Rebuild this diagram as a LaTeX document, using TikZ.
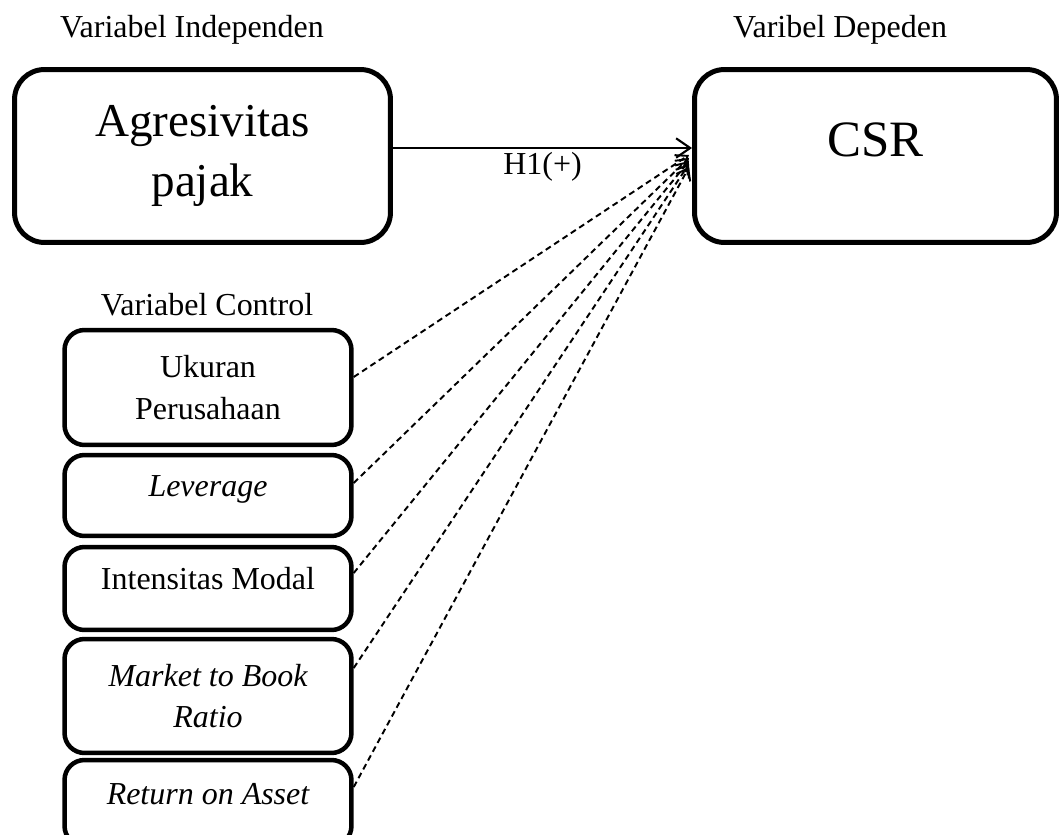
\documentclass[tikz,border=0pt]{standalone}
\usepackage{fontspec}
\setmainfont{Liberation Serif}
\usetikzlibrary{arrows.meta}

\begin{document}
\begin{tikzpicture}[x=0.02cm, y=-0.02cm,
  small/.style={font=\fontsize{18.2}{23.5}\selectfont},
  big/.style={font=\fontsize{26.8}{34}\selectfont},
  bigbox/.style={draw, line width=0.1cm, rounded corners=0.6cm, big, align=center, minimum height=3.46cm},
  ctrl/.style={draw, line width=0.09cm, rounded corners=0.4cm, small, align=center, minimum width=5.74cm},
  oneline/.style={text height=0.6em, text depth=0.45em},
  link/.style={line width=1.1pt, dash pattern=on 3.4pt off 2.3pt, -{Straight Barb[length=6pt,width=9pt]}}]
\useasboundingbox (0,0) rectangle (1059,835);
\node (tind) at (192,30) [small] {Variabel Independen};
\node (tdep) at (840,30) [small] {Varibel Depeden};
\node (tctl) at (207,305) [small] {Variabel Control};
\node (agr) at (202.5,156) [bigbox, minimum width=7.52cm] {Agresivitas\\pajak};
\node (csr) at (875.5,156) [bigbox, minimum width=7.24cm, font=\fontsize{29}{34}\selectfont, text height=0.5em, text depth=0.5em] {CSR};
\node (uk) at (208,387.5) [ctrl, minimum height=2.3cm] {Ukuran\\Perusahaan};
\node (lev) at (208,495.5) [ctrl, oneline, minimum height=1.62cm] {\itshape Leverage};
\node (im) at (208,588.5) [ctrl, oneline, minimum height=1.66cm] {Intensitas Modal};
\node (mbr) at (208,696) [ctrl, minimum height=2.28cm] {\itshape Market to Book\\\itshape Ratio};
\node (roa) at (208,803) [ctrl, oneline, minimum height=1.72cm] {\itshape Return on Asset};
\draw [line width=1.2pt, -{Straight Barb[length=8pt,width=11pt]}] ([yshift=0.16cm]agr.east) -- ([yshift=0.16cm]csr.west)
  node [midway, below, small, inner sep=2pt] {H1(+)};
\coordinate (e1) at (689,155);
\coordinate (e2) at (689,158);
\coordinate (e3) at (689,161);
\coordinate (e4) at (689,164);
\coordinate (e5) at (689,167);
\draw [link] ([yshift=0.21cm]uk.east) -- (e1);
\draw [link] ([yshift=0.25cm]lev.east) -- (e2);
\draw [link] ([yshift=0.31cm]im.east) -- (e3);
\draw [link] ([yshift=0.56cm]mbr.east) -- (e4);
\draw [link] ([yshift=0.32cm]roa.east) -- (e5);
\end{tikzpicture}
\end{document}
